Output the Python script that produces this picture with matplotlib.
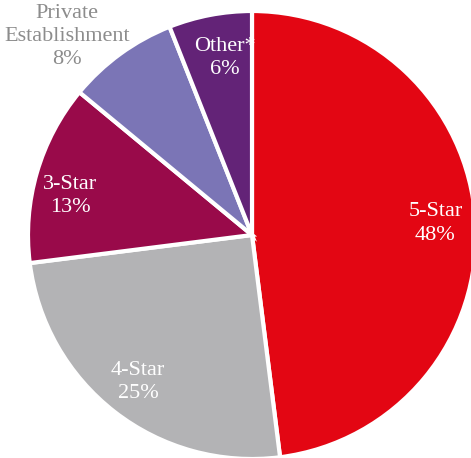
import numpy as np
import matplotlib.pyplot as plt

labels = ['5-Star', '4-Star', '3-Star', 'Private\nEstablishment', 'Other*']
shares = [48, 25, 13, 8, 6]
colors = ['#E30613', '#B3B3B5', '#990A4A', '#7B75B6', '#632377']
text_colors = ['white', 'white', 'white', '#8C8C8C', 'white']
# label distance from centre and angle shift (deg) from the wedge middle
label_r = [0.82, 0.83, 0.83, 1.21, 0.80]
label_shift = [0, 0, 4, 7, -2]

plt.rcParams['font.family'] = ['Liberation Serif', 'DejaVu Serif']

fig = plt.figure(figsize=(4.71, 4.58), dpi=100)
ax = fig.add_axes([0, 0, 1, 1])

wedges, _ = ax.pie(shares, colors=colors, startangle=90, counterclock=False,
                   radius=1, wedgeprops=dict(edgecolor='white', linewidth=3))

for w, lab, s, tc, r, d in zip(wedges, labels, shares, text_colors, label_r, label_shift):
    ang = np.deg2rad((w.theta1 + w.theta2) / 2 + d)
    ax.text(r * np.cos(ang), r * np.sin(ang), f'{lab}\n{s}%', color=tc,
            ha='center', va='center', fontsize=16, linespacing=1.3)

R = 224
ax.set_xlim(-252 / R, 219 / R)
ax.set_ylim(-223 / R, 235 / R)
ax.set_aspect('equal')
ax.axis('off')

fig.savefig('out.png', dpi=100)
